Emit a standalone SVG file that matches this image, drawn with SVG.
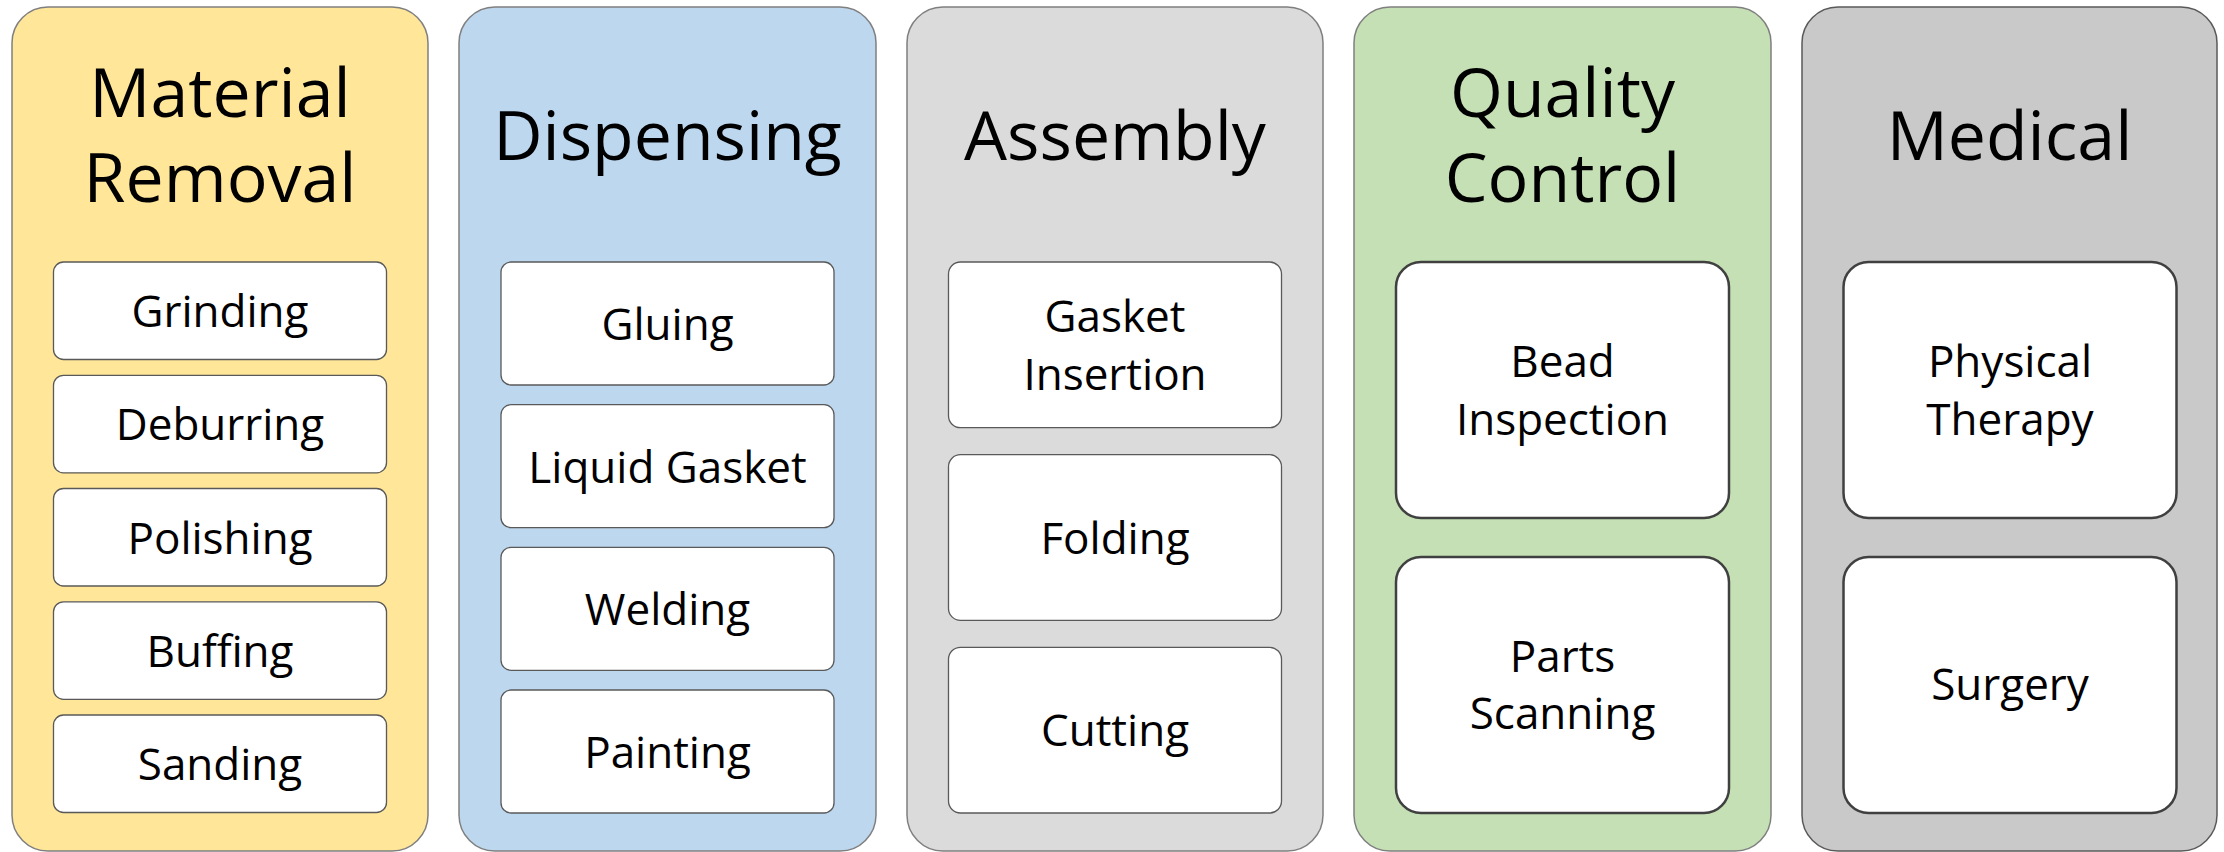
<svg xmlns="http://www.w3.org/2000/svg" width="2224" height="852" viewBox="0 0 2224 852">
<style>
.panel{stroke:#7f7f7f;stroke-width:1.5}
.box{fill:#fff;stroke:#595959;stroke-width:1.3}
.bigbox{fill:#fff;stroke:#404040;stroke-width:2.5}
.title{font-family:"Open Sans","Noto Sans",sans-serif;font-size:68px;fill:#000;text-anchor:middle}
.lbl{font-family:"Open Sans","Noto Sans",sans-serif;font-size:44px;fill:#000;text-anchor:middle}
</style>
<rect width="2224" height="852" fill="#fff"/>
<g id="material-removal">
<rect class="panel" x="12" y="7" width="416" height="844" rx="36" fill="#FFE699"/>
<text class="title" x="220" y="117">Material</text>
<text class="title" x="220" y="202">Removal</text>
<g id="grinding"><rect class="box" x="53.5" y="262" width="333" height="97.5" rx="10"/><text class="lbl" x="220" y="327">Grinding</text></g>
<g id="deburring"><rect class="box" x="53.5" y="375.3" width="333" height="97.5" rx="10"/><text class="lbl" x="220" y="440.3">Deburring</text></g>
<g id="polishing"><rect class="box" x="53.5" y="488.5" width="333" height="97.5" rx="10"/><text class="lbl" x="220" y="553.5">Polishing</text></g>
<g id="buffing"><rect class="box" x="53.5" y="601.8" width="333" height="97.5" rx="10"/><text class="lbl" x="220" y="666.8">Buffing</text></g>
<g id="sanding"><rect class="box" x="53.5" y="715" width="333" height="97.5" rx="10"/><text class="lbl" x="220" y="780">Sanding</text></g>
</g>
<g id="dispensing">
<rect class="panel" x="459" y="7" width="417" height="844" rx="36" fill="#BDD7EE"/>
<text class="title" x="667.5" y="160">Dispensing</text>
<g id="gluing"><rect class="box" x="501" y="262" width="333" height="123" rx="10"/><text class="lbl" x="667.5" y="340">Gluing</text></g>
<g id="liquid-gasket"><rect class="box" x="501" y="404.7" width="333" height="123" rx="10"/><text class="lbl" x="667.5" y="482.7">Liquid Gasket</text></g>
<g id="welding"><rect class="box" x="501" y="547.3" width="333" height="123" rx="10"/><text class="lbl" x="667.5" y="625.3">Welding</text></g>
<g id="painting"><rect class="box" x="501" y="690" width="333" height="123" rx="10"/><text class="lbl" x="667.5" y="768">Painting</text></g>
</g>
<g id="assembly">
<rect class="panel" x="907" y="7" width="416" height="844" rx="36" fill="#DBDBDB"/>
<text class="title" x="1115" y="160">Assembly</text>
<g id="gasket-insertion"><rect class="box" x="948.5" y="262" width="333" height="165.7" rx="12"/><text class="lbl" x="1115" y="331.5">Gasket</text><text class="lbl" x="1115" y="389.5">Insertion</text></g>
<g id="folding"><rect class="box" x="948.5" y="454.7" width="333" height="165.7" rx="12"/><text class="lbl" x="1115" y="553.5">Folding</text></g>
<g id="cutting"><rect class="box" x="948.5" y="647.3" width="333" height="165.7" rx="12"/><text class="lbl" x="1115" y="746">Cutting</text></g>
</g>
<g id="quality-control">
<rect class="panel" x="1354" y="7" width="417" height="844" rx="36" fill="#C5E0B4"/>
<text class="title" x="1562.5" y="117">Quality</text>
<text class="title" x="1562.5" y="202">Control</text>
<g id="bead-inspection"><rect class="bigbox" x="1396" y="262" width="333" height="256" rx="25"/><text class="lbl" x="1562.5" y="376.5">Bead</text><text class="lbl" x="1562.5" y="434.5">Inspection</text></g>
<g id="parts-scanning"><rect class="bigbox" x="1396" y="557" width="333" height="256" rx="25"/><text class="lbl" x="1562.5" y="671.5">Parts</text><text class="lbl" x="1562.5" y="728.5">Scanning</text></g>
</g>
<g id="medical">
<rect class="panel" x="1802" y="7" width="415" height="844" rx="36" fill="#C9C9C9" style="stroke:#595959"/>
<text class="title" x="2009.5" y="160">Medical</text>
<g id="physical-therapy"><rect class="bigbox" x="1843.5" y="262" width="333" height="256" rx="25"/><text class="lbl" x="2010" y="376.5">Physical</text><text class="lbl" x="2010" y="434.5">Therapy</text></g>
<g id="surgery"><rect class="bigbox" x="1843.5" y="557" width="333" height="256" rx="25"/><text class="lbl" x="2010" y="700">Surgery</text></g>
</g>
<g id="connectors"/>
</svg>
